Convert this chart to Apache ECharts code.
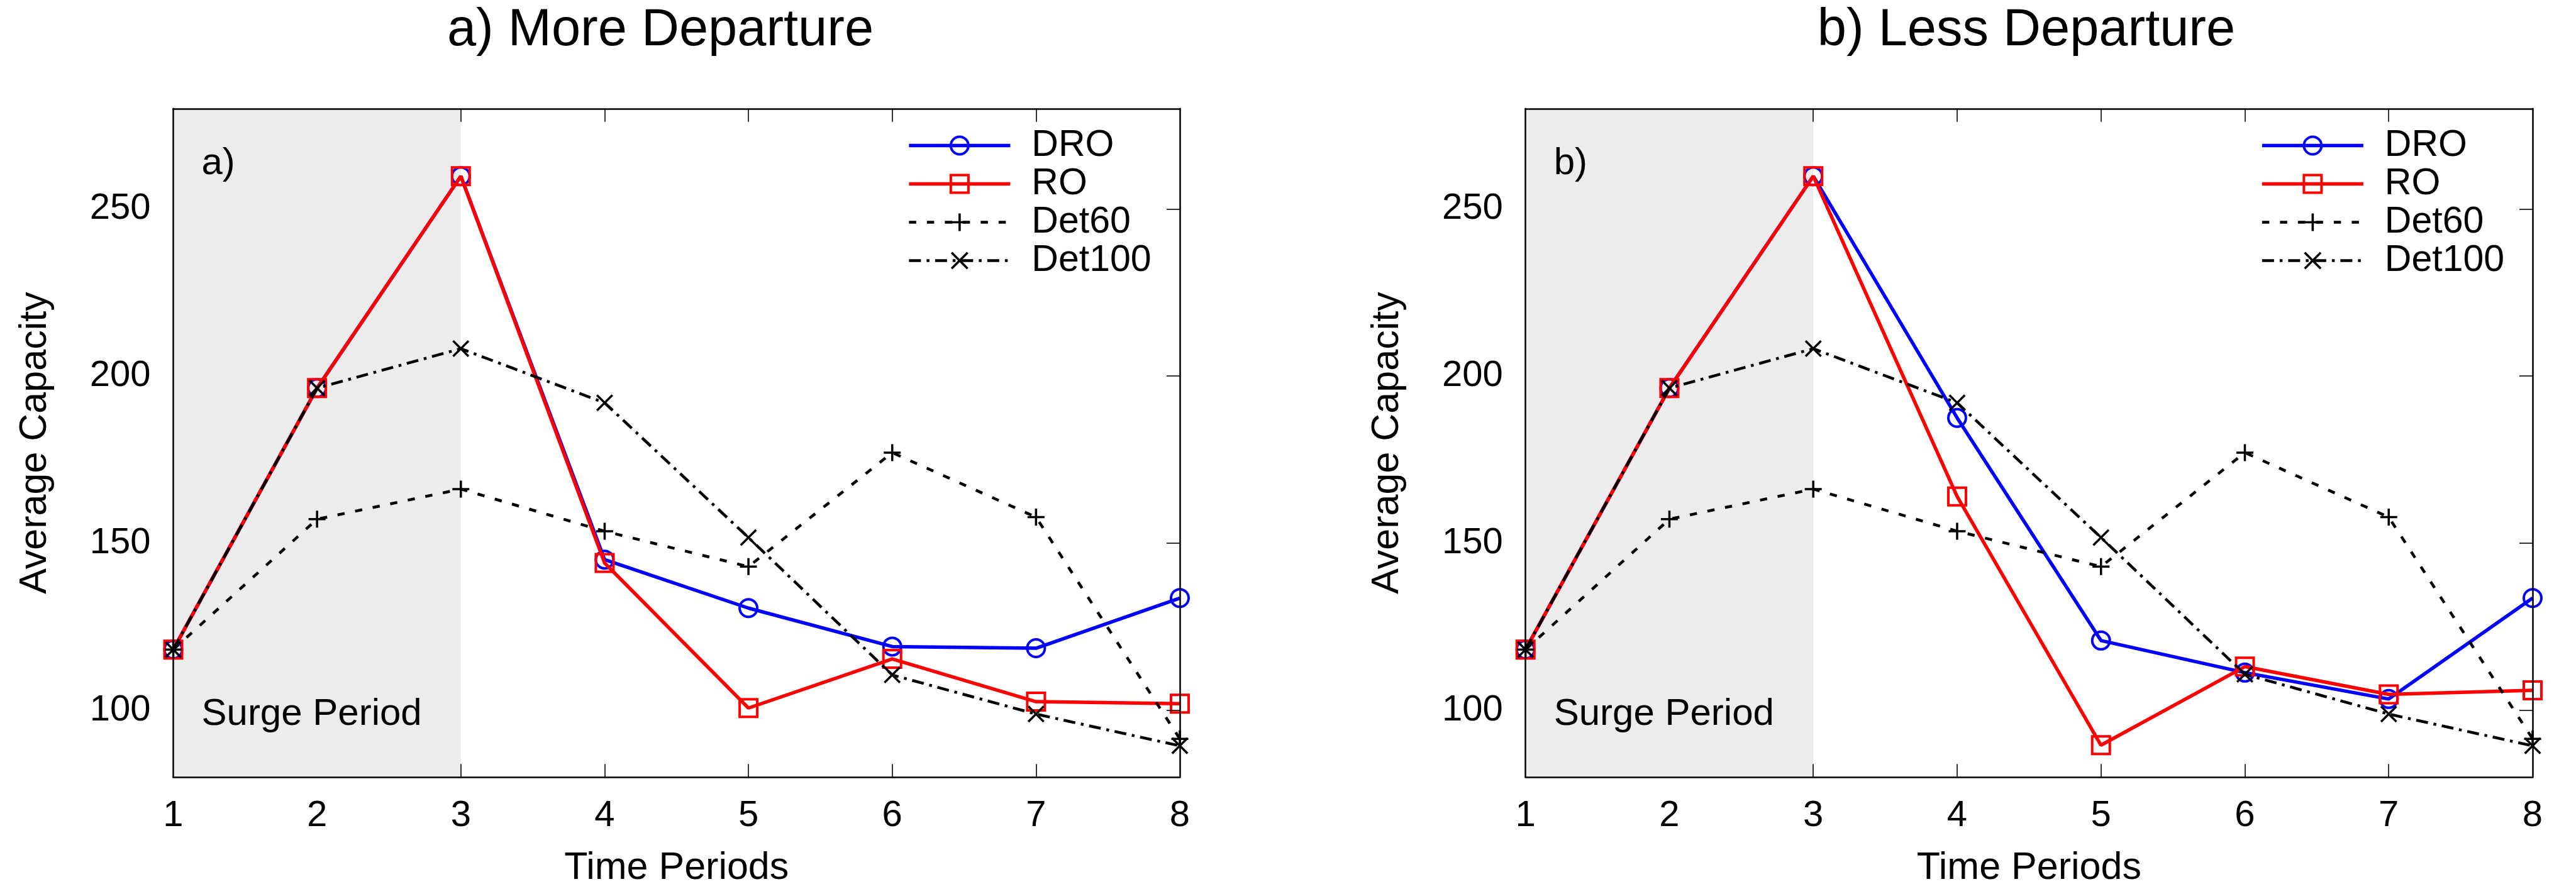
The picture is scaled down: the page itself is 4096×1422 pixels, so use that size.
<!DOCTYPE html>
<html><head><meta charset="utf-8">
<script src="https://cdn.jsdelivr.net/npm/echarts@6/dist/echarts.min.js"></script>
<style>html,body{margin:0;padding:0;background:#fff}#c{width:4096px;height:1422px}</style>
</head><body><div id="c"></div>
<script>
// ---- data ----
const periods = [1, 2, 3, 4, 5, 6, 7, 8];
const yTickValues = [100, 150, 200, 250];
const xInnerTicks = [3, 4, 5, 6, 7];
const surgeRange = [1, 3];
const seriesNames = ['DRO', 'RO', 'Det60', 'Det100'];
const panelTitles = ['a) More Departure', 'b) Less Departure'];
const panelTags = ['a)', 'b)'];
const surgeLabel = 'Surge Period';
const xName = 'Time Periods';
const yName = 'Average Capacity';

const moreDRO    = [118.2, 196.4, 259.8, 145.1, 130.6, 119.1, 118.6, 133.6];
const moreRO     = [118.2, 196.4, 259.8, 144.1, 100.7, 115.4, 102.6, 102.0];
const moreDet60  = [118.2, 157.2, 166.2, 153.6, 143.0, 177.1, 157.8, 91.5];
const moreDet100 = [118.2, 196.4, 208.2, 192.0, 151.7, 110.6, 98.9, 89.4];

const lessDRO    = [118.2, 196.4, 259.8, 187.5, 120.9, 111.3, 103.4, 133.6];
const lessRO     = [118.2, 196.4, 259.8, 164.0, 89.6, 113.1, 104.8, 106.0];
const lessDet60  = [118.2, 157.2, 166.2, 153.6, 143.0, 177.1, 157.8, 91.5];
const lessDet100 = [118.2, 196.4, 208.2, 192.0, 151.7, 110.8, 98.9, 89.4];

// ---- styles ----
const FONT = "'Liberation Sans', Arial, Helvetica, sans-serif";
const PLUS = 'path://M43.5,0H56.5V43.5H100V56.5H56.5V100H43.5V56.5H0V43.5H43.5Z';
const CROSS = 'path://M0,9.2L9.2,0L50,40.8L90.8,0L100,9.2L59.2,50L100,90.8L90.8,100L50,59.2L9.2,100L0,90.8L40.8,50Z';
const DASH60 = [11.5, 17];
const DASH100 = [19, 9, 4.5, 9];

const styleDefs = {
  DRO:    { symbol: 'circle', size: 28, color: '#0000ff', width: 5.5, type: 'solid', hollow: true },
  RO:     { symbol: 'rect',   size: 28, color: '#ff0000', width: 5.5, type: 'solid', hollow: true },
  Det60:  { symbol: PLUS,     size: 27, color: '#000000', width: 4.5, type: DASH60, hollow: false },
  Det100: { symbol: CROSS,    size: 27, color: '#000000', width: 4.5, type: DASH100, hollow: false }
};

const panels = [
  { grid: { left: 275.5, top: 172.8, width: 1600.5, height: 1063.5 }, titleX: 1050, legendLeft: 1442.6,
    values: { DRO: moreDRO, RO: moreRO, Det60: moreDet60, Det100: moreDet100 } },
  { grid: { left: 2425.7, top: 172.8, width: 1601.3, height: 1063.5 }, titleX: 3222, legendLeft: 3594.1,
    values: { DRO: lessDRO, RO: lessRO, Det60: lessDet60, Det100: lessDet100 } }
];

const option = {
  animation: false,
  backgroundColor: '#ffffff',
  textStyle: { fontFamily: FONT },
  title: [], grid: [], xAxis: [], yAxis: [], legend: [], series: []
};

const axisLineStyle = { show: true, onZero: false, lineStyle: { color: '#000', width: 2.5 } };

panels.forEach((p, i) => {
  option.title.push({
    text: panelTitles[i], left: p.titleX, top: 8, textAlign: 'center', padding: 0,
    textStyle: { fontSize: 83, fontWeight: 'normal', color: '#000', fontFamily: FONT }
  });
  option.grid.push(Object.assign({ containLabel: false }, p.grid));

  // bottom x axis
  option.xAxis.push({
    type: 'value', gridIndex: i, min: periods[0], max: periods[periods.length - 1], interval: 1,
    position: 'bottom', z: 5,
    axisLine: axisLineStyle,
    axisTick: { show: true, inside: true, length: 21, customValues: xInnerTicks, lineStyle: { color: '#000', width: 1.6 } },
    axisLabel: { show: true, margin: 33, fontSize: 58, color: '#000', fontFamily: FONT },
    splitLine: { show: false },
    name: xName, nameLocation: 'middle', nameGap: 114,
    nameTextStyle: { fontSize: 61, color: '#000', fontFamily: FONT }
  });
  // top x axis (mirror)
  option.xAxis.push({
    type: 'value', gridIndex: i, min: periods[0], max: periods[periods.length - 1], interval: 1,
    position: 'top', z: 5,
    axisLine: axisLineStyle,
    axisTick: { show: true, inside: true, length: 21, customValues: xInnerTicks, lineStyle: { color: '#000', width: 1.6 } },
    axisLabel: { show: false }, splitLine: { show: false }
  });
  // left y axis
  option.yAxis.push({
    type: 'value', gridIndex: i, min: 80, max: 280, position: 'left', z: 5,
    axisLine: axisLineStyle,
    axisTick: { show: false },
    axisLabel: { show: true, customValues: yTickValues, margin: 36, fontSize: 58, color: '#000', fontFamily: FONT },
    splitLine: { show: false },
    name: yName, nameLocation: 'middle', nameGap: 189, nameRotate: 90,
    nameTextStyle: { fontSize: 61, color: '#000', fontFamily: FONT }
  });
  // right y axis (mirror)
  option.yAxis.push({
    type: 'value', gridIndex: i, min: 80, max: 280, position: 'right', z: 5,
    axisLine: axisLineStyle,
    axisTick: { show: true, inside: true, length: 21, customValues: yTickValues, lineStyle: { color: '#000', width: 1.6 } },
    axisLabel: { show: false }, splitLine: { show: false }
  });

  // shaded surge region with annotations
  option.series.push({
    type: 'line', name: 'surge' + i, xAxisIndex: 2 * i, yAxisIndex: 2 * i, data: [], z: 1, silent: true,
    markArea: {
      silent: true,
      itemStyle: { color: '#ececec' },
      data: [
        [{ xAxis: surgeRange[0], name: panelTags[i],
           label: { show: true, position: [45, 58], fontSize: 60, color: '#000', fontFamily: FONT } },
         { xAxis: surgeRange[1] }],
        [{ xAxis: surgeRange[0], name: surgeLabel, itemStyle: { color: 'rgba(0,0,0,0)' },
           label: { show: true, position: [45, 934], fontSize: 60, color: '#000', fontFamily: FONT } },
         { xAxis: surgeRange[1] }]
      ]
    }
  });

  seriesNames.forEach((n, k) => {
    const s = styleDefs[n];
    option.series.push({
      type: 'line', name: n, xAxisIndex: 2 * i, yAxisIndex: 2 * i, z: 3 + k,
      data: periods.map((x, j) => [x, p.values[n][j]]),
      symbol: s.symbol, symbolSize: s.size, showSymbol: true, clip: false,
      lineStyle: { color: s.color, width: s.width, type: s.type },
      itemStyle: s.hollow
        ? { color: 'rgba(0,0,0,0)', borderColor: s.color, borderWidth: 4 }
        : { color: s.color, borderWidth: 0 },
      emphasis: { disabled: true }
    });
  });

  option.legend.push({
    orient: 'vertical', left: p.legendLeft, top: 201, padding: 0, itemGap: 0,
    itemWidth: 161, itemHeight: 35, selectedMode: false,
    textStyle: { fontSize: 59, color: '#000', lineHeight: 61, padding: [0, 0, 0, 29], fontFamily: FONT },
    data: seriesNames.map(n => {
      const s = styleDefs[n];
      return {
        name: n,
        lineStyle: { color: s.color, width: s.width, type: s.type },
        itemStyle: s.hollow
          ? { color: 'rgba(0,0,0,0)', borderColor: s.color, borderWidth: 4 }
          : { color: s.color, borderWidth: 0 }
      };
    })
  });
});

const chart = echarts.init(document.getElementById('c'), null, { renderer: 'canvas' });
chart.setOption(option);
</script>
</body></html>
